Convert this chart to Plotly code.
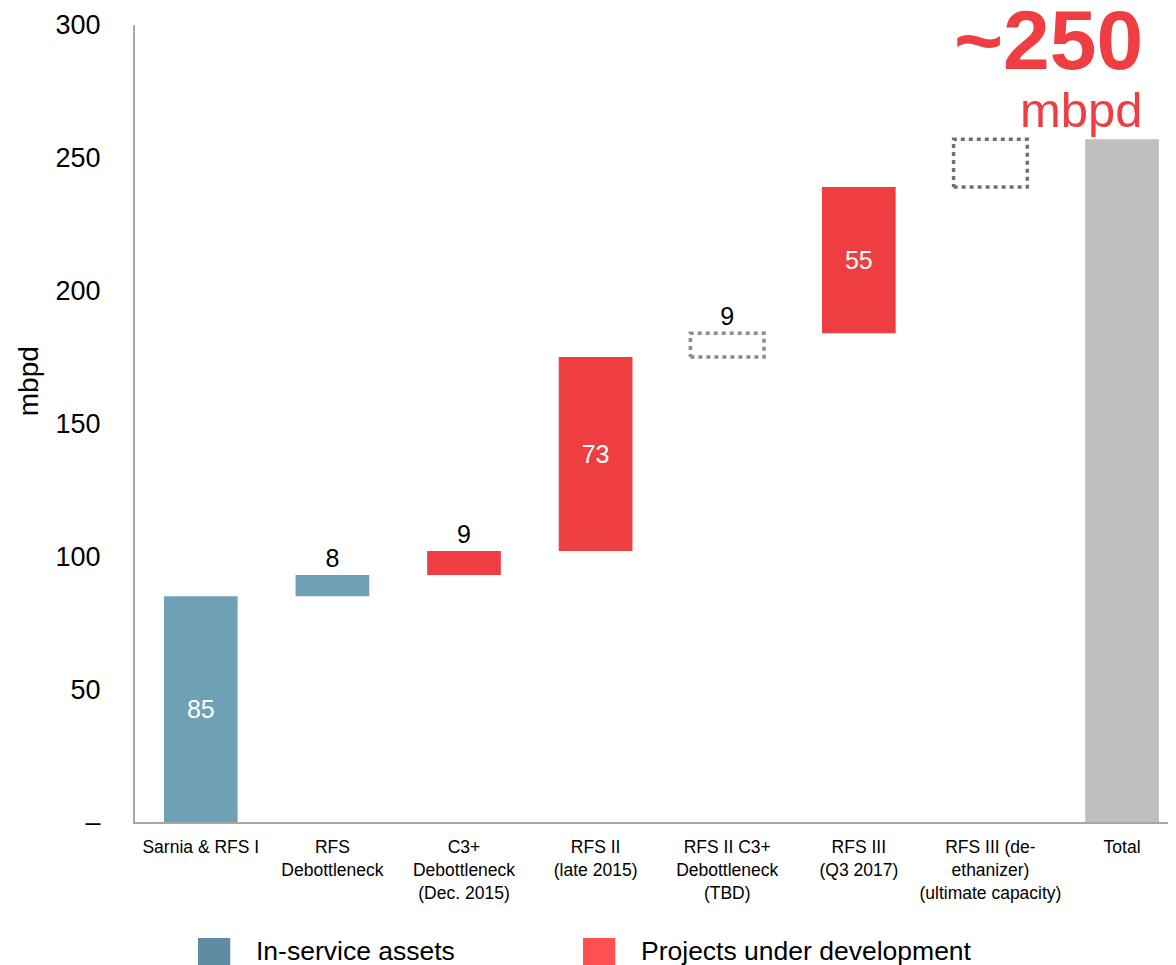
import plotly.graph_objects as go

categories = [
    "Sarnia & RFS I",
    "RFS<br>Debottleneck",
    "C3+<br>Debottleneck<br>(Dec. 2015)",
    "RFS II<br>(late 2015)",
    "RFS II C3+<br>Debottleneck<br>(TBD)",
    "RFS III<br>(Q3 2017)",
    "RFS III (de-<br>ethanizer)<br>(ultimate capacity)",
    "Total",
]
values = [85, 8, 9, 73, 9, 55, 18, 257]
labels = ["85", "8", "9", "73", "9", "55", "", ""]
kinds = ["service", "service", "project", "project", "tbd", "project", "tbd", "total"]
y_ticks = [0, 50, 100, 150, 200, 250, 300]
y_ticktext = ["–", "50", "100", "150", "200", "250", "300"]

colors = {"service": "#6FA1B6", "project": "#EF3E42", "total": "#BFBFBF", "tbd": "rgba(0,0,0,0)"}
outline = ["#8C8C8C", "#6C6F80"]
FONT = "Liberation Sans, Arial, sans-serif"
W = 0.56

# waterfall bases
bases = []
run = 0
for v, k in zip(values, kinds):
    if k == "total":
        bases.append(0)
    else:
        bases.append(run)
        run += v

x = list(range(len(categories)))
inside = [l in ("85", "73", "55") for l in labels]

fig = go.Figure()
fig.add_trace(go.Bar(
    x=x, y=values, base=bases, width=W,
    marker=dict(color=[colors[k] for k in kinds], line=dict(width=0)),
    text=labels,
    textposition=["inside" if i else "outside" for i in inside],
    insidetextanchor="middle",
    textangle=0,
    constraintext="none",
    textfont=dict(size=25, family=FONT, color=["white" if i else "black" for i in inside]),
    cliponaxis=False,
    showlegend=False,
    hoverinfo="skip",
))

# dotted outlines for TBD blocks
j = 0
for i, k in enumerate(kinds):
    if k != "tbd":
        continue
    x0, x1 = i - W / 2, i + W / 2
    y0, y1 = bases[i], bases[i] + values[i]
    fig.add_trace(go.Scatter(
        x=[x0, x1, x1, x0, x0], y=[y0, y0, y1, y1, y0], mode="lines",
        line=dict(color=outline[j], width=3.5, dash="4px,4px"),
        showlegend=False, hoverinfo="skip", cliponaxis=False,
    ))
    j += 1

fig.update_layout(
    width=1168, height=957,
    margin=dict(l=127, r=0, t=17, b=143),
    plot_bgcolor="white", paper_bgcolor="white",
    font=dict(family=FONT, color="black"),
    xaxis=dict(
        range=[-0.5, 7.41], tickvals=x, ticktext=categories,
        tickfont=dict(size=17.5, family=FONT), showgrid=False, zeroline=False,
        showline=True, linecolor="#A6A6A6", linewidth=2, ticks="",
        ticklabelstandoff=8,
    ),
    yaxis=dict(
        range=[0, 300], tickvals=y_ticks, ticktext=y_ticktext,
        tickfont=dict(size=27, family=FONT), showgrid=False, zeroline=False,
        showline=True, linecolor="#A6A6A6", linewidth=2, ticks="",
        ticklabelstandoff=27,
    ),
)

fig.add_annotation(text="mbpd", textangle=-90, xref="paper", yref="paper", x=0, y=0.553,
                   xanchor="center", yanchor="middle", xshift=-107, showarrow=False,
                   font=dict(size=28, family=FONT))
fig.add_annotation(text="<b>~250</b>", xref="paper", yref="paper", x=0.97, y=0.981,
                   xanchor="right", yanchor="middle", showarrow=False,
                   font=dict(size=84, family=FONT, color="#EF3E42"))
fig.add_annotation(text="mbpd", xref="paper", yref="paper", x=0.97, y=0.893,
                   xanchor="right", yanchor="middle", showarrow=False,
                   font=dict(size=49, family=FONT, color="#EF3E42"))

# custom legend
legend_items = [("In-service assets", "#5E8CA3", 0.0605), ("Projects under development", "#FF5050", 0.4304)]
for name, col, lx in legend_items:
    fig.add_shape(type="rect", xref="paper", yref="paper", x0=lx, x1=lx + 0.031,
                  y0=-0.19, y1=-0.1455, fillcolor=col, line=dict(width=0))
    fig.add_annotation(text=name, xref="paper", yref="paper", x=lx + 0.0535, y=-0.1615,
                       xanchor="left", yanchor="middle", showarrow=False,
                       font=dict(size=26.5, family=FONT))

fig.write_html("out.html")
